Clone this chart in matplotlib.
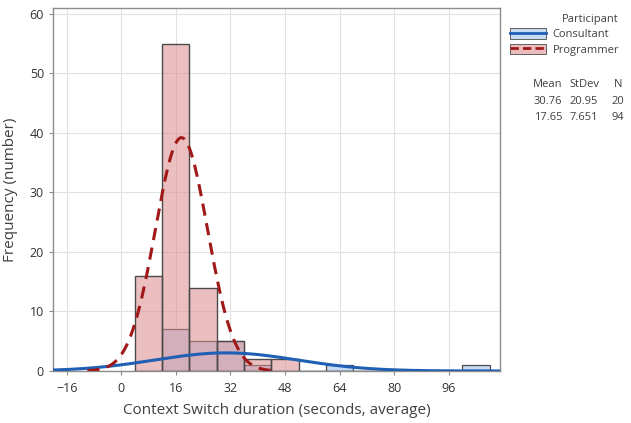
import numpy as np
import matplotlib
matplotlib.use("Agg")
import matplotlib.pyplot as plt
from matplotlib.patches import Patch
from matplotlib.lines import Line2D
from matplotlib.legend_handler import HandlerTuple

plt.rcParams['font.family'] = ['Open Sans', 'DejaVu Sans']

# histogram bins (width 8)
bin_edges = [4, 12, 20, 28, 36, 44, 52, 60, 68, 76, 84, 92, 100, 108]
programmer_counts = [16, 55, 14, 5, 2, 2, 0, 0, 0, 0, 0, 0, 0]
consultant_counts = [0, 7, 5, 5, 1, 0, 0, 1, 0, 0, 0, 0, 1]

groups = ["Consultant", "Programmer"]
means = [30.76, 17.65]
stdevs = [20.95, 7.651]
ns = [20, 94]

xticks = [-16, 0, 16, 32, 48, 64, 80, 96]
yticks = [0, 10, 20, 30, 40, 50, 60]

blue_fill = "#c6daf2"
blue_line = "#1f5fb4"
red_fill = "#dc8c8c"
red_line = "#a01818"

fig = plt.figure(figsize=(6.31, 4.23), dpi=100)
ax = fig.add_axes([53 / 631, 52 / 423, 447 / 631, 363 / 423])

edges = np.array(bin_edges)
widths = np.diff(edges)
ax.bar(edges[:-1], consultant_counts, width=widths, align="edge",
       color=blue_fill, edgecolor="#4a4a4a", linewidth=0.9, zorder=2)
ax.bar(edges[:-1], programmer_counts, width=widths, align="edge",
       color=red_fill, alpha=0.55, edgecolor="#4a4a4a", linewidth=0.9, zorder=3)
# redraw programmer edges fully opaque
ax.bar(edges[:-1], programmer_counts, width=widths, align="edge",
       fill=False, edgecolor="#4a4a4a", linewidth=0.9, zorder=4)

bw = widths[0]
xs = np.linspace(-20, 111, 600)
for m, s, n, col, ls in [(means[0], stdevs[0], ns[0], blue_line, "-"),
                         (means[1], stdevs[1], ns[1], red_line, (0, (4, 2.5)))]:
    ys = n * bw / (s * np.sqrt(2 * np.pi)) * np.exp(-0.5 * ((xs - m) / s) ** 2)
    if col == red_line:
        keep = (xs > -10) & (xs < 45)
        ax.plot(xs[keep], ys[keep], color=col, linestyle=ls, linewidth=2.2, zorder=5)
    else:
        ax.plot(xs, ys, color=col, linestyle=ls, linewidth=2.2, zorder=5)

ax.set_xlim(-20, 111)
ax.set_ylim(0, 61)
ax.set_xticks(xticks)
ax.set_yticks(yticks)
ax.grid(True, color="#e2e2e2", linewidth=0.8, zorder=0)
ax.set_axisbelow(True)
for sp in ax.spines.values():
    sp.set_color("#8c8c8c")
    sp.set_linewidth(1.0)
ax.tick_params(colors="#333333", labelsize=9, length=3, color="#8c8c8c")
ax.tick_params(axis="x", pad=5)
ax.set_xlabel("Context Switch duration (seconds, average)", fontsize=11, color="#404040", labelpad=6)
ax.set_ylabel("Frequency (number)", fontsize=11, color="#404040", labelpad=8)

handles = [(Patch(facecolor=blue_fill, edgecolor="#4a4a4a", linewidth=0.6),
            Line2D([], [], color=blue_line, linewidth=2)),
           (Patch(facecolor="#ecbcbc", edgecolor="#4a4a4a", linewidth=0.6),
            Line2D([], [], color=red_line, linewidth=2, linestyle=(0, (3, 1.5))))]
leg = fig.legend(handles, groups, loc="upper right", bbox_to_anchor=(629 / 631, 1 - 4 / 423),
                 handler_map={tuple: HandlerTuple(ndivide=1)}, frameon=False,
                 title="Participant", fontsize=8, title_fontsize=8,
                 handlelength=3.2, handleheight=1.1, handletextpad=0.6, labelspacing=0.3,
                 alignment="right")
for t in leg.get_texts():
    t.set_color("#404040")
leg.get_title().set_color("#404040")

# statistics table
col_x = [548, 584, 618]
fig.text(col_x[0] / 631, 1 - 84 / 423, "Mean", ha="center", va="center", fontsize=8, color="#404040")
fig.text(col_x[1] / 631, 1 - 84 / 423, "StDev", ha="center", va="center", fontsize=8, color="#404040")
fig.text(col_x[2] / 631, 1 - 84 / 423, "N", ha="center", va="center", fontsize=8, color="#404040")
for i in range(len(groups)):
    yy = 1 - (101 + 16 * i) / 423
    fig.text(col_x[0] / 631, yy, f"{means[i]:.2f}", ha="center", va="center", fontsize=8, color="#404040")
    fig.text(col_x[1] / 631, yy, f"{stdevs[i]:.4g}", ha="center", va="center", fontsize=8, color="#404040")
    fig.text(col_x[2] / 631, yy, f"{ns[i]}", ha="center", va="center", fontsize=8, color="#404040")

fig.savefig("out.png", dpi=100)
